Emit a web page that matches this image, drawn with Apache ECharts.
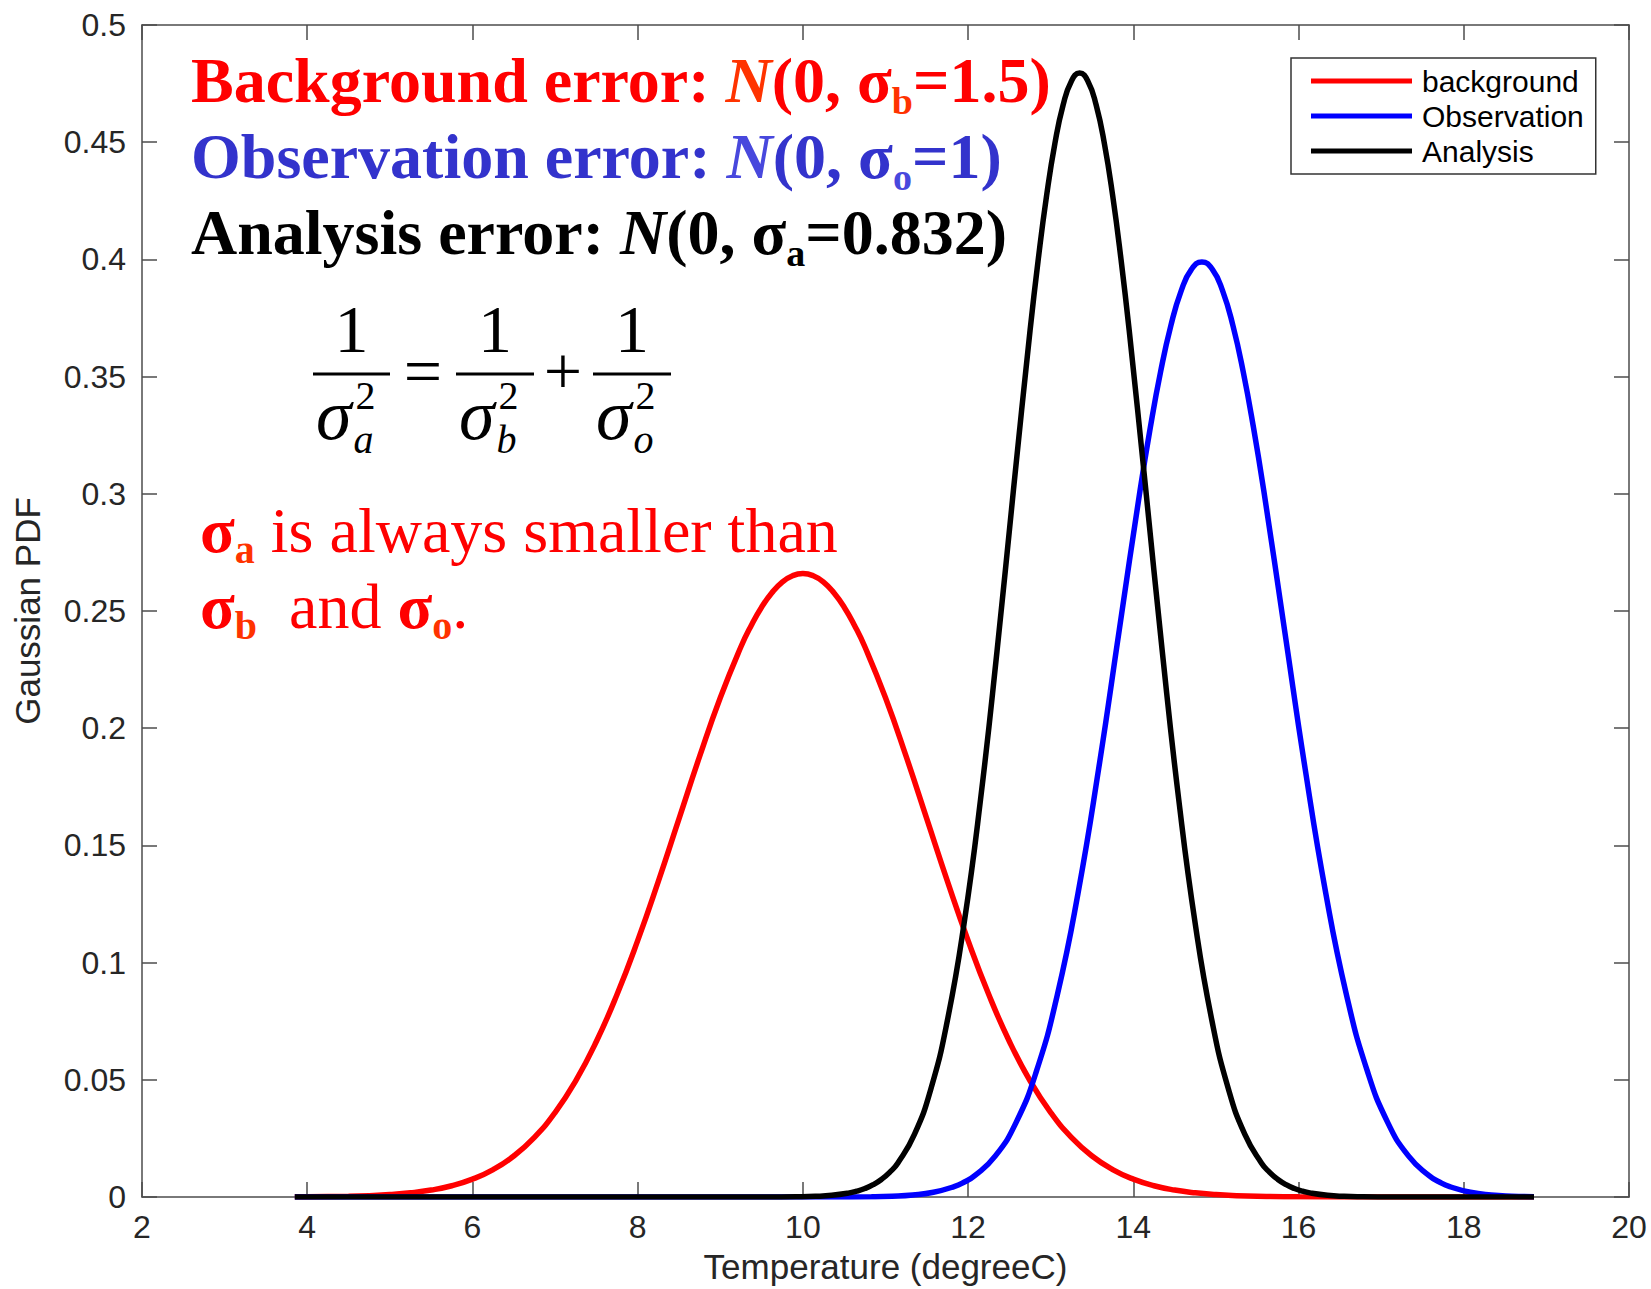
<!DOCTYPE html>
<html>
<head>
<meta charset="utf-8">
<script src="https://cdn.jsdelivr.net/npm/echarts@6/dist/echarts.min.js"></script>
<style>
html,body{margin:0;padding:0;background:#fff;}
#chart{width:1651px;height:1289px;}
</style>
</head>
<body>
<div id="chart"></div>
<script>
// ---- Data ----
const seriesNames = ['background', 'Observation', 'Analysis'];

const bgX = [3.85, 4, 4.5, 4.75, 5, 5.25, 5.5, 5.75, 6, 6.25, 6.5, 6.75, 7, 7.25, 7.5, 7.75, 8, 8.25, 8.5, 8.75,
  9, 9.25, 9.375, 9.5, 9.625, 9.75, 9.875, 10, 10.125, 10.25, 10.375, 10.5, 10.625, 10.75, 11, 11.25, 11.5,
  11.75, 12, 12.25, 12.5, 12.75, 13, 13.25, 13.5, 13.75, 14, 14.25, 14.5, 14.75, 15, 15.25, 15.5, 16, 17, 18, 18.85];
const bgY = [0.00006, 0.00009, 0.00032, 0.00058, 0.00103, 0.00177, 0.00296, 0.0048, 0.0076, 0.01169, 0.01749,
  0.02543, 0.036, 0.04956, 0.06634, 0.08637, 0.10936, 0.13467, 0.16134, 0.18796,
  0.21298, 0.23474, 0.24385, 0.25163, 0.25778, 0.26233, 0.26504, 0.26596, 0.26504, 0.26233, 0.25778, 0.25163,
  0.24385, 0.23474, 0.21298, 0.18796, 0.16134,
  0.13467, 0.10936, 0.08637, 0.06634, 0.04956, 0.036, 0.02543, 0.01749, 0.01169, 0.0076, 0.0048, 0.00296,
  0.00177, 0.00103, 0.00058, 0.00032, 0.00009, 0.00001, 0, 0];

const obsX = [3.85, 9.83, 10.33, 10.83, 11.08, 11.33, 11.58, 11.83, 11.955, 12.08, 12.33, 12.58, 12.83, 13.08,
  13.33, 13.58, 13.83, 14.08, 14.205, 14.33, 14.455, 14.58, 14.705, 14.83, 14.955, 15.08, 15.205, 15.33, 15.455,
  15.58, 15.83, 16.08, 16.33, 16.58, 16.83, 17.08, 17.33, 17.58, 17.705, 17.83, 18.08, 18.33, 18.58, 18.85];
const obsY = [0, 0, 0.00002, 0.00013, 0.00035, 0.00087, 0.00203, 0.00443, 0.0064, 0.00909, 0.01753, 0.03174,
  0.05399, 0.08628, 0.12952, 0.18265, 0.24197, 0.30114, 0.32816, 0.35207, 0.37185, 0.38667, 0.39584, 0.39894,
  0.39584, 0.38667, 0.37185, 0.35207, 0.32816, 0.30114, 0.24197, 0.18265, 0.12952, 0.08628, 0.05399, 0.03174,
  0.01753, 0.00909, 0.0064, 0.00443, 0.00203, 0.00087, 0.00035, 0.00012];

const anX = [3.85, 9.55, 9.95, 10.15, 10.35, 10.55, 10.65, 10.75, 10.85, 10.95, 11.05, 11.15, 11.35, 11.55, 11.75,
  11.95, 12.15, 12.35, 12.55, 12.75, 12.85, 12.95, 13.05, 13.15, 13.25, 13.35, 13.45, 13.55, 13.65, 13.75, 13.85,
  13.95, 14.15, 14.35, 14.55, 14.75, 14.95, 15.15, 15.35, 15.55, 15.65, 15.75, 15.85, 15.95, 16.05, 16.15, 16.35,
  16.55, 16.75, 17.15, 18.85];
const anY = [0, 0.00001, 0.00011, 0.00029, 0.00072, 0.00166, 0.00248, 0.00363, 0.00525, 0.00749, 0.01051, 0.01454,
  0.02668, 0.04618, 0.07547, 0.1164, 0.16946, 0.23287, 0.30201, 0.36972, 0.40028, 0.42717, 0.44933, 0.46584,
  0.47605, 0.4795, 0.47605, 0.46584, 0.44933, 0.42717, 0.40028, 0.36972, 0.30201, 0.23287, 0.16946, 0.1164,
  0.07547, 0.04618, 0.02668, 0.01454, 0.01051, 0.00749, 0.00525, 0.00363, 0.00248, 0.00166, 0.00072, 0.00029,
  0.00011, 0.00001, 0];

const xTitle = 'Temperature (degreeC)';
const yTitle = 'Gaussian PDF';

// ---- Helpers ----
const SANS = '"Liberation Sans", Arial, Helvetica, sans-serif';
const SERIF = '"Liberation Serif", "Times New Roman", serif';
const FIX = -6;
const mctx = document.createElement('canvas').getContext('2d');
function fontStr(s) {
  return (s.style || 'normal') + ' ' + (s.weight || 'normal') + ' ' + s.size + 'px ' + SERIF;
}
function midOffset(s) {
  mctx.font = fontStr(s);
  mctx.textBaseline = 'alphabetic';
  const a = mctx.measureText('H').actualBoundingBoxAscent;
  mctx.textBaseline = 'middle';
  const b = mctx.measureText('H').actualBoundingBoxAscent;
  mctx.textBaseline = 'alphabetic';
  return a - b;
}
function textWidth(s) {
  mctx.font = fontStr(s);
  mctx.textBaseline = 'alphabetic';
  return mctx.measureText(s.t).width;
}
function txt(s, x, base, align) {
  return {
    type: 'text', x: x, y: base - midOffset(s) + FIX, silent: true, z: 100,
    style: {
      text: s.t, fontFamily: SERIF, fontSize: s.size, fontWeight: s.weight || 'normal',
      fontStyle: s.style || 'normal', fill: s.color || '#000',
      align: align || 'left', verticalAlign: 'middle'
    }
  };
}
function line(x0, base, segs, out) {
  let x = x0;
  segs.forEach(s => {
    out.push(txt(s, x, base + (s.dy || 0)));
    x += textWidth(s) + (s.gap || 0);
  });
}

const graphics = [];
const RED = '#ff0000', ORG = '#ff3300', BLUE = '#3333cc', LBLUE = '#4848dd';
const B = 'bold', BIG = 64, SUB = 38;
line(191, 103, [
  {t: 'Background error: ', size: BIG, weight: B, color: RED},
  {t: 'N', size: BIG, weight: B, style: 'italic', color: ORG},
  {t: '(0, σ', size: BIG, weight: B, color: RED},
  {t: 'b', size: SUB, weight: B, color: ORG, dy: 14},
  {t: '=1.5)', size: BIG, weight: B, color: RED}
], graphics);
line(191, 179, [
  {t: 'Observation error: ', size: BIG, weight: B, color: BLUE},
  {t: 'N', size: BIG, weight: B, style: 'italic', color: LBLUE},
  {t: '(0, σ', size: BIG, weight: B, color: BLUE},
  {t: 'o', size: SUB, weight: B, color: LBLUE, dy: 14},
  {t: '=1)', size: BIG, weight: B, color: BLUE}
], graphics);
line(191, 255, [
  {t: 'Analysis error: ', size: BIG, weight: B, color: '#000'},
  {t: 'N', size: BIG, weight: B, style: 'italic', color: '#000'},
  {t: '(0, σ', size: BIG, weight: B, color: '#000'},
  {t: 'a', size: SUB, weight: B, color: '#000', dy: 14},
  {t: '=0.832)', size: BIG, weight: B, color: '#000'}
], graphics);

// statement
line(200, 553, [
  {t: 'σ', size: BIG, weight: B, color: RED},
  {t: 'a', size: 40, weight: B, color: ORG, dy: 13},
  {t: ' is always smaller than', size: BIG, color: RED}
], graphics);
line(200, 629, [
  {t: 'σ', size: BIG, weight: B, color: RED},
  {t: 'b', size: 40, weight: B, color: ORG, dy: 13},
  {t: '  and ', size: BIG, color: RED},
  {t: 'σ', size: BIG, weight: B, color: RED},
  {t: 'o', size: 40, weight: B, color: ORG, dy: 13},
  {t: '.', size: BIG, color: RED}
], graphics);

// formula 1/σa² = 1/σb² + 1/σo²
const FS = 68, SS = 40;
const bars = [[313, 390, 'a'], [456, 534, 'b'], [593, 671, 'o']];
bars.forEach(b => {
  graphics.push({type: 'line', silent: true, z: 100, shape: {x1: b[0], y1: 374, x2: b[1], y2: 374},
    style: {stroke: '#000', lineWidth: 3}});
  graphics.push(txt({t: '1', size: FS}, (b[0] + b[1]) / 2, 353, 'center'));
  const sig = {t: 'σ', size: FS + 4, style: 'italic'};
  const sx = b[0] + 3;
  graphics.push(txt(sig, sx, 440));
  const w = textWidth(sig);
  graphics.push(txt({t: '2', size: SS}, sx + w + 4, 412));
  graphics.push(txt({t: b[2], size: SS, style: 'italic'}, sx + w + 2, 456));
});
function centerGlyph(s, cx, cy) {
  mctx.font = fontStr(s);
  mctx.textBaseline = 'middle';
  const m = mctx.measureText(s.t);
  mctx.textBaseline = 'alphabetic';
  const off = (m.actualBoundingBoxDescent - m.actualBoundingBoxAscent) / 2;
  return {
    type: 'text', x: cx, y: cy - off + FIX, silent: true, z: 100,
    style: {text: s.t, fontFamily: SERIF, fontSize: s.size, fill: '#000', align: 'center', verticalAlign: 'middle'}
  };
}
graphics.push(centerGlyph({t: '=', size: FS}, 423, 372));
graphics.push(centerGlyph({t: '+', size: FS}, 563, 372));

// ---- Chart ----
const chart = echarts.init(document.getElementById('chart'), null, {renderer: 'svg'});
const axisLine = {show: true, onZero: false, lineStyle: {color: '#4d4d4d', width: 1.5}};
const axisTick = {show: true, inside: true, length: 15, lineStyle: {color: '#4d4d4d', width: 1.5}};
const labelStyle = {fontSize: 32, color: '#262626', fontFamily: SANS};

function mk(xs, ys) { return xs.map((x, i) => [x, ys[i]]); }
const colors = ['#ff0000', '#0000ff', '#000000'];
const datas = [mk(bgX, bgY), mk(obsX, obsY), mk(anX, anY)];

chart.setOption({
  animation: false,
  backgroundColor: '#ffffff',
  grid: {left: 142, right: 22, top: 25, bottom: 88, containLabel: false},
  legend: {
    data: seriesNames, orient: 'vertical', left: 1291, top: 58,
    icon: 'rect', itemWidth: 101, itemHeight: 5, itemGap: 5,
    padding: [8, 12, 8, 20],
    backgroundColor: '#ffffff', borderColor: '#333333', borderWidth: 1.5, borderRadius: 0,
    textStyle: {fontSize: 30, color: '#000', fontFamily: SANS, padding: [0, 0, 0, 5]},
    selectedMode: false
  },
  xAxis: [
    {type: 'value', min: 2, max: 20, interval: 2, position: 'bottom',
      name: xTitle, nameLocation: 'middle', nameGap: 52,
      nameTextStyle: {fontSize: 35, color: '#262626', fontFamily: SANS},
      axisLine: axisLine, axisTick: axisTick, axisLabel: Object.assign({margin: 14}, labelStyle),
      splitLine: {show: false}},
    {type: 'value', min: 2, max: 20, interval: 2, position: 'top',
      axisLine: axisLine, axisTick: axisTick, axisLabel: {show: false}, splitLine: {show: false}}
  ],
  yAxis: [
    {type: 'value', min: 0, max: 0.5, interval: 0.05, position: 'left',
      name: yTitle, nameLocation: 'middle', nameGap: 97,
      nameTextStyle: {fontSize: 35, color: '#262626', fontFamily: SANS},
      axisLine: axisLine, axisTick: axisTick, axisLabel: Object.assign({margin: 16}, labelStyle),
      splitLine: {show: false}},
    {type: 'value', min: 0, max: 0.5, interval: 0.05, position: 'right',
      axisLine: axisLine, axisTick: axisTick, axisLabel: {show: false}, splitLine: {show: false}}
  ],
  series: seriesNames.map((n, i) => ({
    name: n, type: 'line', xAxisIndex: 0, yAxisIndex: 0,
    data: datas[i], showSymbol: false, symbol: 'none',
    smooth: 0.5,
    color: colors[i], itemStyle: {color: colors[i]},
    lineStyle: {color: colors[i], width: 5.5, cap: 'butt'},
    z: 2 + i
  })),
  graphic: graphics
});
</script>
</body>
</html>
